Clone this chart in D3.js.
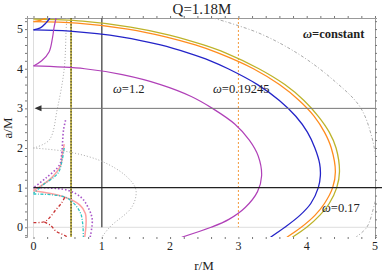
<!DOCTYPE html>
<html>
<head>
<meta charset="utf-8">
<script src="https://d3js.org/d3.v7.min.js"></script>
<style>
body { margin: 0; background: white; }
svg text { font-family: 'Liberation Serif', 'DejaVu Serif', serif; fill: #222; }
</style>
</head>
<body>
<svg id="svg"></svg>
<script>

// ---- data (r/M, a/M) ----
var xTicks = [0, 1, 2, 3, 4, 5];
var yTicks = [0, 1, 2, 3, 4, 5];

var yellowMain = [[0,5.25],[0.72,5.2],[1.42,5.05],[1.99,4.85],[2.49,4.6],[2.81,4.4],[3.3,4.0],[3.68,3.6],[3.96,3.2],[4.17,2.8],[4.33,2.4],[4.43,2.0],[4.48,1.4],[4.44,1.0],[4.33,0.6],[4.19,0.3],[4.0,0.0],[3.79,-0.25]];
var orangeMain = [[0,5.19],[0.64,5.15],[1.38,5.0],[1.95,4.8],[2.37,4.6],[2.7,4.4],[3.22,4.0],[3.6,3.6],[3.89,3.2],[4.11,2.8],[4.26,2.4],[4.36,2.0],[4.42,1.4],[4.38,1.0],[4.26,0.6],[4.12,0.3],[3.92,0.0],[3.71,-0.25]];
var orangeInner = [[0,5.19],[0.1,5.22],[0.18,5.28]];
var blueMain = [[0,4.98],[0.53,4.95],[1.3,4.8],[1.86,4.6],[2.26,4.4],[2.59,4.2],[2.85,4.0],[3.28,3.6],[3.6,3.2],[3.84,2.8],[4.01,2.4],[4.12,2.0],[4.19,1.6],[4.2,1.3],[4.17,1.0],[4.06,0.6],[3.9,0.3],[3.68,0.0],[3.47,-0.25]];
var blueInner = [[0,4.98],[0.1,5.03],[0.18,5.15],[0.24,5.28]];
var purpleMain = [[0,4.07],[0.75,4.0],[1.3,3.85],[1.86,3.6],[2.31,3.3],[2.62,3.0],[2.95,2.6],[3.16,2.2],[3.29,1.8],[3.34,1.3],[3.28,0.9],[3.1,0.5],[2.86,0.2],[2.6,0.0],[2.17,-0.25]];
var purpleInner = [[0,4.07],[0.12,4.2],[0.23,4.43],[0.28,4.8],[0.3,5.03],[0.33,5.28]];

var grayInnerTop = [[0.49,5.28],[0.48,5.06],[0.45,4.0],[0.35,3.0],[0.23,2.2],[0,2.0]];
var grayInnerLow = [[0,2.0],[0.52,1.9],[1.02,1.65],[1.37,1.27],[1.5,0.94],[1.44,0.51],[1.12,0.01],[0.97,-0.32]];
var grayOuter = [[2.63,5.28],[3.3,4.9],[3.9,4.35],[4.4,3.7],[4.78,3.04],[4.95,2.3],[5.03,1.5],[5.04,1.0],[4.98,0.5],[4.88,0.0],[4.72,-0.25]];

var magentaTop = [[0.47,2.7],[0.44,2.46],[0.41,1.8],[0.38,1.57],[0.18,1.24],[0,1.0]];
var magentaLow = [[0,1.0],[0.49,0.94],[0.7,0.75],[0.8,0.5],[0.86,0.2],[0.83,-0.25]];
var pinkTop = [[0.45,2.1],[0.42,1.8],[0.4,1.57],[0.26,1.24],[0.05,0.98],[0,0.93]];
var pinkLow = [[0,0.92],[0.44,0.77],[0.68,0.56],[0.76,0.35],[0.77,0.1],[0.75,-0.25]];
var cyanTop = [[0.45,2.0],[0.42,1.7],[0.36,1.37],[0.14,1.07],[0,0.86]];
var cyanLow = [[0,0.84],[0.49,0.74],[0.68,0.39],[0.72,0.1],[0.73,-0.25]];
var redTop = [[0,0.12],[0.16,0.14],[0.24,0.25],[0.33,0.45],[0.41,0.61],[0.47,0.8]];
var redLow = [[0.16,0.13],[0.25,0.05],[0.33,-0.1],[0.45,-0.2],[0.55,-0.3]];

var W = 382, H = 274;
var svg = d3.select("#svg").attr("width", W).attr("height", H);

var plot = {left: 27, right: 375, top: 18, bottom: 237};
var x = d3.scaleLinear().domain([-0.095, 5.0]).range([plot.left, plot.right]);
var y = d3.scaleLinear().domain([-0.245, 5.28]).range([plot.bottom, plot.top]);

svg.append("defs").append("clipPath").attr("id", "clip")
	.append("rect").attr("x", plot.left).attr("y", plot.top)
	.attr("width", plot.right - plot.left).attr("height", plot.bottom - plot.top);

// light grid at r=0 and a=0
svg.append("line").attr("x1", x(0)).attr("x2", x(0)).attr("y1", plot.top).attr("y2", plot.bottom)
	.style("stroke", "#ddd").style("stroke-width", 1);
svg.append("line").attr("x1", plot.left).attr("x2", plot.right).attr("y1", y(0)).attr("y2", y(0))
	.style("stroke", "#ddd").style("stroke-width", 1);

// frame (left, top, right) + ticks pointing out
var minor = d3.range(-0.2, 5.3, 0.2).map(function(d){ return Math.round(d*10)/10; });
var xMinor = minor.filter(function(d){ return d >= -0.09 && d <= 5.0; });
var yMinor = minor.filter(function(d){ return d >= -0.24 && d <= 5.28; });

var leftAxis = d3.axisLeft(y).tickValues(yMinor).tickSize(2).tickFormat("");
var rightAxis = d3.axisRight(y).tickValues(yMinor).tickSize(2).tickFormat("");
var topAxis = d3.axisTop(x).tickValues(xMinor).tickSize(2).tickFormat("");
var bottomAxis = d3.axisBottom(x).tickValues(xMinor).tickSize(2).tickFormat("");

function styleAxis(g, showDomain) {
	g.select(".domain").style("stroke", showDomain ? "#999" : "none");
	g.selectAll(".tick line").style("stroke", "#777");
}
svg.append("g").attr("transform", "translate(" + plot.left + ",0)").call(leftAxis).call(styleAxis, true);
svg.append("g").attr("transform", "translate(" + plot.right + ",0)").call(rightAxis).call(styleAxis, true);
svg.append("g").attr("transform", "translate(0," + plot.top + ")").call(topAxis).call(styleAxis, true);
svg.append("g").attr("transform", "translate(0," + plot.bottom + ")").call(bottomAxis).call(styleAxis, false);

// tick labels
svg.selectAll("text.xl").data(xTicks).enter().append("text").attr("class", "xl")
	.attr("x", function(d){ return x(d); }).attr("y", 250)
	.attr("text-anchor", "middle").style("font-size", "12px")
	.text(function(d){ return d; });
svg.selectAll("text.yl").data(yTicks).enter().append("text").attr("class", "yl")
	.attr("x", 23).attr("y", function(d){ return y(d) + 4; })
	.attr("text-anchor", "end").style("font-size", "12px")
	.text(function(d){ return d; });

// axis titles
svg.append("text").attr("x", 204).attr("y", 270).attr("text-anchor", "middle")
	.style("font-size", "13px").text("r/M");
svg.append("text").attr("transform", "translate(12,128) rotate(-90)").attr("text-anchor", "middle")
	.style("font-size", "13px").text("a/M");
svg.append("text").attr("x", 202).attr("y", 14).attr("text-anchor", "middle")
	.style("font-size", "15px").text("Q=1.18M");

var g = svg.append("g").attr("clip-path", "url(#clip)");

// reference lines
g.append("line").attr("x1", x(3)).attr("x2", x(3)).attr("y1", plot.top).attr("y2", y(0))
	.style("stroke", "#f39a3c").style("stroke-width", 1).style("stroke-dasharray", "2,2");
g.append("line").attr("x1", x(0.55)).attr("x2", x(0.55)).attr("y1", plot.top).attr("y2", plot.bottom)
	.style("stroke", "#bfae30").style("stroke-width", 1.6);
g.append("line").attr("x1", x(0.55)).attr("x2", x(0.55)).attr("y1", plot.top).attr("y2", plot.bottom)
	.style("stroke", "#222").style("stroke-width", 0.9).style("stroke-dasharray", "1.5,1.5");
g.append("line").attr("x1", x(1)).attr("x2", x(1)).attr("y1", plot.top).attr("y2", y(0))
	.style("stroke", "#666").style("stroke-width", 1.6);

var line = d3.line()
	.x(function(d){ return x(d[0]); })
	.y(function(d){ return y(d[1]); })
	.curve(d3.curveCatmullRom.alpha(0.5));

function draw(data, color, width, dash) {
	g.append("path").datum(data).attr("d", line)
		.style("fill", "none").style("stroke", color).style("stroke-width", width)
		.style("stroke-dasharray", dash || null);
}

// gray dotted curves
draw(grayInnerTop, "#aaa", 1, "1,2");
draw(grayInnerLow, "#aaa", 1, "1,2");
draw(grayOuter, "#aaa", 1, "3,2,1,2");

// omega = constant curves
draw(yellowMain, "#bdb32a", 1.3);
draw(orangeMain, "#ff8c1e", 1.3);
draw(orangeInner, "#ff8c1e", 1.3);
draw(blueMain, "#2424c8", 1.3);
draw(blueInner, "#2424c8", 1.3);
draw(purpleMain, "#b040b8", 1.2);
draw(purpleInner, "#b040b8", 1.2);

// small curves near origin
draw(pinkTop, "#ffa0a0", 1.5);
draw(pinkLow, "#ffa0a0", 1.5);
draw(magentaTop, "#a855c8", 1.6, "1.5,2");
draw(magentaLow, "#a855c8", 1.6, "1.5,2");
draw(cyanTop, "#2cc4c4", 1.3, "3,1.5,1,1.5");
draw(cyanLow, "#2cc4c4", 1.3, "3,1.5,1,1.5");
draw(redTop, "#c83030", 1.3, "3,2,1,2");
draw(redLow, "#c83030", 1.3, "3,2,1,2");

// a=1 line (runs past the frame) and a=3 arrow line
svg.append("line").attr("x1", x(0)).attr("x2", W).attr("y1", y(1)).attr("y2", y(1))
	.style("stroke", "#222").style("stroke-width", 1.4);
svg.append("line").attr("x1", x(0) + 3).attr("x2", plot.right).attr("y1", y(3)).attr("y2", y(3))
	.style("stroke", "#777").style("stroke-width", 1);
svg.append("path")
	.attr("d", "M" + (x(0)+1) + "," + y(3) + "l7,-3l0,6z")
	.style("fill", "#333");

// labels
function omegaLabel(px, py, rest, bold) {
	var t = svg.append("text").attr("x", px).attr("y", py).style("font-size", "12.5px");
	if (bold) t.style("font-weight", "bold");
	t.append("tspan").style("font-style", "italic").text("\u03c9");
	t.append("tspan").text(rest);
}
omegaLabel(113, 93, "=1.2");
omegaLabel(213, 93, "=0.19245");
omegaLabel(322, 212, "=0.17");
omegaLabel(303, 38, "=constant", true);

</script>
</body>
</html>
